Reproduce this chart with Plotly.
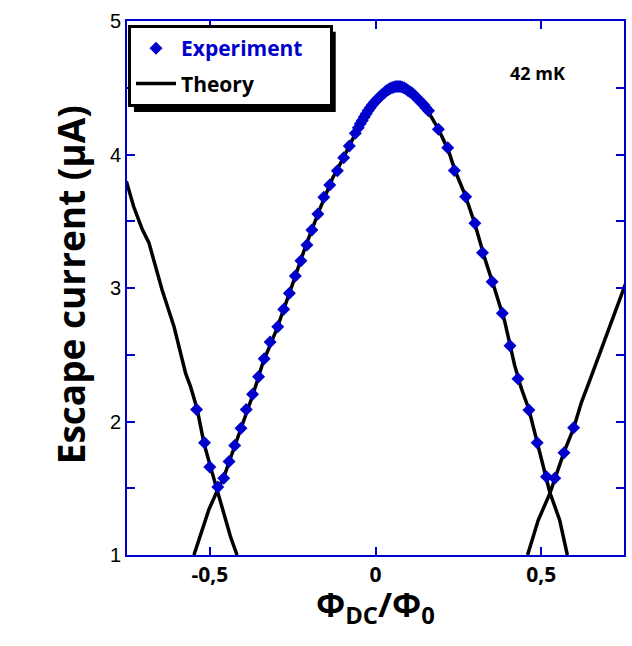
import plotly.graph_objects as go

# Experiment (blue diamonds)
exp_x = [-0.540, -0.516, -0.500,
         -0.476, -0.458, -0.442, -0.425, -0.406, -0.390, -0.371, -0.353, -0.336, -0.318,
         -0.295, -0.277, -0.260, -0.242, -0.225, -0.207, -0.192, -0.174, -0.156, -0.138,
         -0.115, -0.096, -0.079, -0.061,
         -0.052, -0.046, -0.040, -0.034, -0.028, -0.022, -0.016, -0.010, -0.004, 0.002,
         0.008, 0.014, 0.020, 0.026, 0.032, 0.038, 0.044, 0.050, 0.056, 0.062, 0.068,
         0.074, 0.080, 0.086, 0.092, 0.098, 0.104, 0.110, 0.116, 0.122, 0.128, 0.134,
         0.140, 0.146, 0.152,
         0.160, 0.190, 0.218, 0.238, 0.272, 0.300, 0.323, 0.352, 0.383, 0.406, 0.430,
         0.463, 0.488, 0.516,
         0.541, 0.569, 0.598]
exp_y = [2.09, 1.84, 1.66,
         1.51, 1.575, 1.70, 1.82, 1.95, 2.09, 2.204, 2.336, 2.47, 2.595,
         2.71, 2.84, 2.96, 3.09, 3.204, 3.322, 3.434, 3.554, 3.679, 3.772,
         3.879, 3.976, 4.064, 4.159,
         4.20, 4.23, 4.255, 4.28, 4.305, 4.33, 4.35, 4.37, 4.39, 4.405,
         4.42, 4.435, 4.45, 4.46, 4.475, 4.485, 4.495, 4.50, 4.505, 4.51, 4.51,
         4.51, 4.505, 4.50, 4.49, 4.48, 4.47, 4.46, 4.445, 4.43, 4.415, 4.40,
         4.385, 4.37, 4.35,
         4.328, 4.19, 4.05, 3.88, 3.684, 3.485, 3.264, 3.047, 2.81, 2.568, 2.32,
         2.086, 1.84, 1.586,
         1.575, 1.766, 1.954]

# Theory branches (black lines)
th_left_x = [-0.752, -0.730, -0.704, -0.684, -0.644, -0.608, -0.573, -0.558, -0.538,
             -0.518, -0.498, -0.478, -0.453, -0.438, -0.418]
th_left_y = [3.80, 3.61, 3.44, 3.34, 2.985, 2.71, 2.36, 2.26, 2.09,
             1.84, 1.66, 1.49, 1.26, 1.14, 1.0]
th_mid_x = [-0.548, -0.525, -0.503, -0.478, -0.458, -0.44, -0.42, -0.40, -0.37, -0.34,
            -0.30, -0.26, -0.21, -0.17, -0.13, -0.10, -0.06, -0.03, 0.0, 0.03, 0.05,
            0.07, 0.09, 0.12, 0.15, 0.19, 0.22, 0.24, 0.27, 0.30, 0.33, 0.36, 0.39,
            0.42, 0.44, 0.463, 0.488, 0.51, 0.526, 0.556, 0.579]
th_mid_y = [1.0, 1.17, 1.34, 1.48, 1.58, 1.71, 1.85, 1.99, 2.20, 2.44,
            2.68, 2.96, 3.32, 3.58, 3.82, 3.96, 4.16, 4.29, 4.40, 4.47, 4.50,
            4.51, 4.50, 4.45, 4.36, 4.19, 4.03, 3.88, 3.70, 3.48, 3.22, 2.99, 2.75,
            2.42, 2.25, 2.09, 1.84, 1.63, 1.47, 1.26, 1.0]
th_right_x = [0.459, 0.491, 0.526, 0.569, 0.598, 0.621, 0.647, 0.687, 0.723, 0.756]
th_right_y = [1.0, 1.26, 1.46, 1.77, 1.95, 2.14, 2.31, 2.57, 2.82, 3.04]

x_ticks = [-0.5, 0, 0.5]
x_ticklabels = ["-0,5", "0", "0,5"]
y_ticks = [1, 1.5, 2, 2.5, 3, 3.5, 4, 4.5, 5]
y_ticklabels = ["1", "", "2", "", "3", "", "4", "", "5"]

BLUE = "#0000CC"
FONT = "Open Sans"

th_x = th_left_x + [None] + th_mid_x + [None] + th_right_x
th_y = th_left_y + [None] + th_mid_y + [None] + th_right_y

fig = go.Figure()
fig.add_trace(go.Scatter(x=th_x, y=th_y, mode="lines", connectgaps=False,
                         line=dict(color="black", width=3.5),
                         name="<b>Theory</b>", showlegend=False))
fig.add_trace(go.Scatter(x=exp_x, y=exp_y, mode="markers",
                         marker=dict(symbol="diamond", size=10, color=BLUE),
                         legendgroup="a",
                         name="<b><span style='color:#0000CC'>Experiment</span></b>\u00a0\u00a0\u00a0\u00a0"))
# legend entry for theory (Experiment first, then Theory)
fig.add_trace(go.Scatter(x=[None], y=[None], mode="lines",
                         line=dict(color="black", width=3.5),
                         legendgroup="b",
                         name="<b>Theory</b>"))

axis_common = dict(showline=True, linecolor=BLUE, linewidth=2, mirror="ticks",
                   ticks="inside", tickcolor=BLUE, ticklen=8, tickwidth=2,
                   showgrid=False, zeroline=False)

fig.update_xaxes(range=[-0.75, 0.75], tickvals=x_ticks, ticktext=x_ticklabels,
                 tickfont=dict(family=FONT, size=21, color="black", weight="bold"),
                 **axis_common)
fig.update_yaxes(range=[1, 5], tickvals=y_ticks, ticktext=y_ticklabels,
                 tickfont=dict(family="Liberation Sans", size=20, color="black"),
                 **axis_common)

fig.update_layout(
    width=632, height=646,
    margin=dict(l=127, r=6, t=21, b=91),
    plot_bgcolor="white", paper_bgcolor="white",
    showlegend=True,
    legend=dict(x=0.002, y=0.9925, xanchor="left", yanchor="top",
                bgcolor="white", bordercolor="black", borderwidth=3,
                font=dict(family=FONT, size=21, color="black"),
                tracegroupgap=5, itemwidth=40),
    shapes=[
        dict(type="rect", xref="paper", yref="paper", layer="above",
             x0=0.014, x1=0.42, y0=0.8295, y1=0.98,
             fillcolor="black", line=dict(width=0)),
    ],
    annotations=[
        dict(x=0.49, y=4.61, xref="x", yref="y", text="<b>42 mK</b>", showarrow=False,
             font=dict(family=FONT, size=18, color="black")),
        dict(x=-0.17, y=0.505, xref="paper", yref="paper", text="<b>Escape current (\u03bcA)</b>",
             textangle=-90, showarrow=False, font=dict(family=FONT, size=37, color="black")),
        dict(x=0.5, y=-0.045, xref="paper", yref="paper", yanchor="top",
             text="<b>\u03a6<sub>DC</sub>/\u03a6<sub>0</sub></b>", showarrow=False,
             font=dict(family=FONT, size=34, color="black")),
    ],
)

fig.write_html("out.html")
